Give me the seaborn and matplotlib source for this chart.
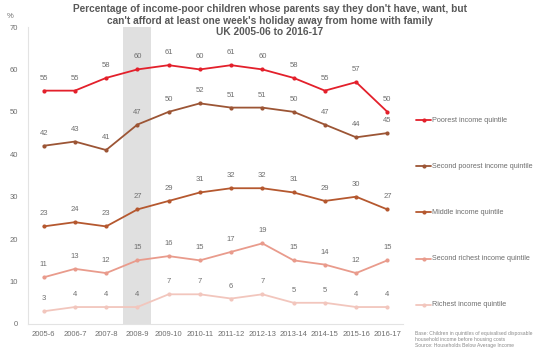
import matplotlib
matplotlib.use("Agg")
import matplotlib.pyplot as plt
from matplotlib.lines import Line2D
import seaborn as sns
import pandas as pd

years = ["2005-6", "2006-7", "2007-8", "2008-9", "2009-10", "2010-11",
         "2011-12", "2012-13", "2013-14", "2014-15", "2015-16", "2016-17"]
series_names = ["Poorest income quintile", "Second poorest income quintile",
                "Middle income quintile", "Second richest income quintile",
                "Richest income quintile"]
poorest = [55, 55, 58, 60, 61, 60, 61, 60, 58, 55, 57, 50]
second_poorest = [42, 43, 41, 47, 50, 52, 51, 51, 50, 47, 44, 45]
middle = [23, 24, 23, 27, 29, 31, 32, 32, 31, 29, 30, 27]
second_richest = [11, 13, 12, 15, 16, 15, 17, 19, 15, 14, 12, 15]
richest = [3, 4, 4, 4, 7, 7, 6, 7, 5, 5, 4, 4]
all_values = [poorest, second_poorest, middle, second_richest, richest]
colors = ["#e3202b", "#9c5535", "#b5582f", "#e99b8c", "#f2c6bd"]

sns.set_theme(style="white")
plt.rcParams["font.family"] = ["Liberation Sans", "DejaVu Sans"]

rows = []
for name, vals in zip(series_names, all_values):
    for y, v in zip(years, vals):
        rows.append({"year": y, "value": v, "series": name})
df = pd.DataFrame(rows)

fig = plt.figure(figsize=(5.4, 3.55), dpi=100)
ax = fig.add_axes([28 / 540, 1 - 324 / 355, (403 - 28) / 540, (324 - 27) / 355])

ax.axvspan(2.55, 3.45, color="#e0e0e0", zorder=0, lw=0)

sns.lineplot(data=df, x="year", y="value", hue="series", hue_order=series_names,
             palette=colors, marker="o", markersize=3, markeredgewidth=0,
             linewidth=1.3, ax=ax, legend=False, sort=False)

for vals in all_values:
    for i, v in enumerate(vals):
        ax.annotate(str(v), (i, v), xytext=(0, 6.5), textcoords="offset points",
                    ha="center", va="bottom", fontsize=5.5, color="#6e6e6e")

ax.set_xlim(-0.5, 11.5)
ax.set_ylim(0, 70)
ax.set_yticks(range(0, 71, 10))
ax.set_xlabel("")
ax.set_ylabel("")
ax.tick_params(axis="y", labelsize=5.5, colors="#6e6e6e", length=0, pad=7)
ax.tick_params(axis="x", labelsize=5.5, colors="#6e6e6e", length=0, pad=5)
for s in ["top", "right"]:
    ax.spines[s].set_visible(False)
ax.spines["left"].set_color("#e3e3e3")
ax.spines["bottom"].set_color("#e3e3e3")
ax.spines["left"].set_linewidth(0.8)
ax.spines["bottom"].set_linewidth(0.8)

fig.text(7 / 540, 1 - 17 / 355, "%", fontsize=5.5, color="#6e6e6e", ha="left", va="center")

fig.text(0.5, 1 - 4.5 / 355,
         "Percentage of income-poor children whose parents say they don't have, want, but\n"
         "can't afford at least one week's holiday away from home with family\n"
         "UK 2005-06 to 2016-17",
         ha="center", va="top", fontsize=7.3, fontweight="bold", color="#595959",
         linespacing=1.15)

leg_y = [120, 166, 212, 259, 305]
for name, c, yy in zip(series_names, colors, leg_y):
    yf = 1 - yy / 355
    fig.add_artist(Line2D([416 / 540, 431 / 540], [yf, yf], color=c, lw=1.3,
                          transform=fig.transFigure))
    fig.add_artist(Line2D([423.5 / 540], [yf], color=c, marker="o", markersize=3,
                          markeredgewidth=0, linestyle="none", transform=fig.transFigure))
    fig.text(432 / 540, yf, name, fontsize=5.2, color="#6e6e6e", ha="left", va="center")

fig.text(415 / 540, 1 - 331 / 355,
         "Base: Children in quintiles of equivalised disposable\n"
         "household income before housing costs\n"
         "Source: Households Below Average Income",
         fontsize=3.6, color="#8a8a8a", ha="left", va="top", linespacing=1.2)

fig.savefig("out.png", dpi=100)
